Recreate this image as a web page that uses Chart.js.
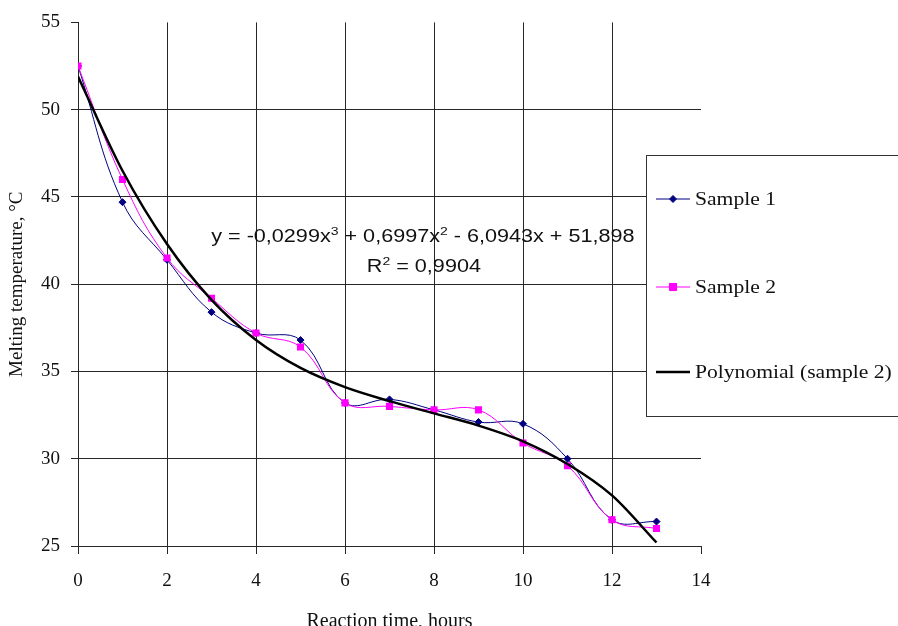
<!DOCTYPE html>
<html>
<head>
<meta charset="utf-8">
<script src="https://cdn.jsdelivr.net/npm/chart.js@4.4.1/dist/chart.umd.min.js"></script>
<style>
html, body { margin: 0; padding: 0; background: #fff; }
</style>
</head>
<body>
<canvas id="myChart" width="898" height="626"></canvas>
<script>
// reaction time (hours) and melting temperature (°C)
var hours = [0, 1, 2, 3, 4, 5, 6, 7, 8, 9, 10, 11, 12, 13];
var sample1 = [52.5, 44.7, 41.4, 38.4, 37.2, 36.8, 33.2, 33.4, 32.8, 32.1, 32.0, 30.0, 26.5, 26.4];
var sample2 = [52.5, 46.0, 41.5, 39.2, 37.2, 36.4, 33.2, 33.0, 32.8, 32.8, 30.9, 29.6, 26.5, 26.0];
var trend2 = [51.9, 46.5, 42.3, 39.1, 36.8, 35.2, 34.1, 33.3, 32.6, 31.9, 31.0, 29.7, 27.9, 25.2];
var seriesNames = ['Sample 1', 'Sample 2', 'Polynomial (sample 2)'];
var equation = [['y = -0,0299x', ''], ['3', 'sup'], [' + 0,6997x', ''], ['2', 'sup'], [' - 6,0943x + 51,898', '']];
var rSquared = [['R', ''], ['2', 'sup'], [' = 0,9904', '']];

function points(ys) {
    return hours.map(function (h, i) { return { x: h, y: ys[i] }; });
}

var gridCol = '#262626';
var serif = "'Liberation Serif', 'Times New Roman', serif";
var sans = "'Liberation Sans', Arial, sans-serif";
var stretch = 1.2; // the original picture is a bit wider than tall

// draw text pieces with superscripts, centered at cx
function drawRich(ctx, parts, cx, cy, size) {
    var total = 0;
    parts.forEach(function (p) {
        ctx.font = (p[1] === 'sup' ? size * 0.65 : size) + 'px ' + sans;
        total += ctx.measureText(p[0]).width;
    });
    ctx.save();
    ctx.translate(cx - total * stretch / 2, cy);
    ctx.scale(stretch, 1);
    var x = 0;
    parts.forEach(function (p) {
        var sup = p[1] === 'sup';
        ctx.font = (sup ? size * 0.65 : size) + 'px ' + sans;
        ctx.fillText(p[0], x, sup ? -size * 0.4 : 0);
        x += ctx.measureText(p[0]).width;
    });
    ctx.restore();
}

var extras = {
    id: 'extras',
    afterDraw: function (chart) {
        var ctx = chart.ctx;
        var xs = chart.scales.x, ys = chart.scales.y;
        ctx.save();
        // trendline equation
        ctx.fillStyle = '#111';
        ctx.textBaseline = 'alphabetic';
        ctx.textAlign = 'left';
        var cx = xs.getPixelForValue(7.75);
        drawRich(ctx, equation, cx, ys.getPixelForValue(42.4), 18);
        drawRich(ctx, rSquared, cx + 1, ys.getPixelForValue(40.7), 18);

        // legend box
        ctx.fillStyle = '#fff';
        ctx.fillRect(646.5, 155.5, 300, 261);
        ctx.strokeStyle = '#333';
        ctx.lineWidth = 1;
        ctx.strokeRect(646.5, 155.5, 300, 261);
        var rowY = [199, 287, 372];
        chart.data.datasets.forEach(function (ds, i) {
            var y = rowY[i];
            ctx.strokeStyle = ds.borderColor;
            ctx.lineWidth = ds.borderWidth;
            ctx.beginPath();
            ctx.moveTo(656, y);
            ctx.lineTo(690, y);
            ctx.stroke();
            if (ds.pointRadius > 0) {
                Chart.helpers.drawPoint(ctx, {
                    pointStyle: ds.pointStyle,
                    radius: ds.pointRadius,
                    borderWidth: 1,
                    rotation: 0
                }, 673, y);
                ctx.fillStyle = ds.pointBackgroundColor;
                ctx.strokeStyle = ds.pointBorderColor;
                ctx.fill();
            }
            ctx.save();
            ctx.translate(695, y + 1);
            ctx.scale(stretch, 1);
            ctx.fillStyle = '#111';
            ctx.font = '18px ' + serif;
            ctx.textBaseline = 'middle';
            ctx.fillText(ds.label, 0, 0);
            ctx.restore();
        });
        ctx.restore();
    }
};

var ctxMain = document.getElementById('myChart').getContext('2d');
var chart1 = new Chart(ctxMain, {
    type: 'line',
    data: {
        datasets: [{
            label: seriesNames[0],
            data: points(sample1),
            borderColor: '#000080',
            backgroundColor: '#000080',
            borderWidth: 1,
            pointStyle: 'rectRot',
            pointRadius: 3.5,
            pointBackgroundColor: '#000080',
            pointBorderColor: '#000080',
            pointBorderWidth: 1,
            tension: 0.4,
            order: 2
        }, {
            label: seriesNames[1],
            data: points(sample2),
            borderColor: '#ff00ff',
            backgroundColor: '#ff00ff',
            borderWidth: 1,
            pointStyle: 'rect',
            pointRadius: 5,
            pointBackgroundColor: '#ff00ff',
            pointBorderColor: '#ff00ff',
            pointBorderWidth: 0,
            tension: 0.4,
            order: 1
        }, {
            label: seriesNames[2],
            data: points(trend2),
            borderColor: '#000000',
            backgroundColor: '#000000',
            borderWidth: 2.5,
            pointRadius: 0,
            cubicInterpolationMode: 'monotone',
            order: 0
        }]
    },
    options: {
        responsive: false,
        animation: false,
        devicePixelRatio: 1,
        layout: { padding: { top: 18, right: 197, left: 0, bottom: 0 } },
        plugins: {
            legend: { display: false },
            tooltip: { enabled: false }
        },
        scales: {
            x: {
                type: 'linear',
                min: 0,
                max: 14,
                afterFit: function (s) { s.height = 80; },
                border: { color: gridCol, width: 1 },
                grid: {
                    color: function (c) { return c.tick && c.tick.value === 14 ? 'rgba(0,0,0,0)' : gridCol; },
                    tickColor: gridCol,
                    tickLength: 8,
                    lineWidth: 1
                },
                ticks: {
                    stepSize: 2,
                    padding: 16,
                    color: '#111',
                    font: { family: serif, size: 19 }
                },
                title: {
                    display: true,
                    text: 'Reaction time, hours',
                    color: '#111',
                    font: { family: serif, size: 20 },
                    padding: { top: 0, bottom: -8 }
                }
            },
            y: {
                min: 25,
                max: 55,
                afterFit: function (s) { s.width = 78; },
                border: { color: gridCol, width: 1 },
                grid: {
                    color: function (c) { return c.tick && c.tick.value === 55 ? 'rgba(0,0,0,0)' : gridCol; },
                    tickColor: gridCol,
                    tickLength: 7,
                    lineWidth: 1
                },
                ticks: {
                    stepSize: 5,
                    padding: 11,
                    color: '#111',
                    font: { family: serif, size: 19 }
                },
                title: {
                    display: true,
                    text: 'Melting temperature, °C',
                    color: '#111',
                    font: { family: serif, size: 19 },
                    padding: { top: 6, bottom: 0 }
                }
            }
        }
    },
    plugins: [extras]
});
</script>
</body>
</html>
